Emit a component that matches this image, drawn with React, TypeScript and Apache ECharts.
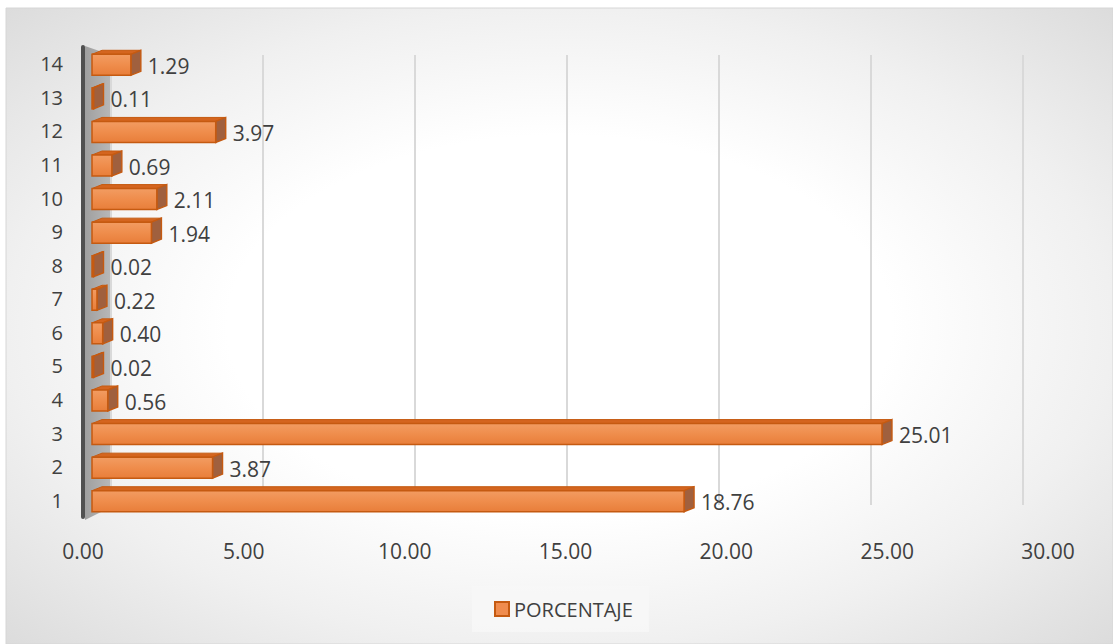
import React, { useEffect, useRef } from "react";
import * as echarts from "echarts";

const categories = ["1", "2", "3", "4", "5", "6", "7", "8", "9", "10", "11", "12", "13", "14"];
const values = [18.76, 3.87, 25.01, 0.56, 0.02, 0.4, 0.22, 0.02, 1.94, 2.11, 0.69, 3.97, 0.11, 1.29];
const seriesName = "PORCENTAJE";
const xMin = 0;
const xMax = 30;
const xInterval = 5;

const FONT = '"Open Sans", "Noto Sans", sans-serif';

export default function App() {
  const ref = useRef<HTMLDivElement>(null);

  useEffect(() => {
    if (!ref.current) return;
    const chart = echarts.init(ref.current, undefined, { renderer: "svg" });

    const renderItem = (params: any, api: any) => {
      const cat = api.value(1);
      const v = api.value(0);
      const p0 = api.coord([0, cat]);
      const p1 = api.coord([v, cat]);
      const h = 21;
      const dx = 10;
      const dy = 4;
      const top = p0[1] - h / 2 + 1;
      const bottom = top + h;
      const x0 = p0[0] + 2;
      const x1 = Math.max(p1[0], x0 + 1.5);
      return {
        type: "group",
        children: [
          {
            type: "polygon",
            shape: { points: [[x0, top], [x0 + dx, top - dy], [x1 + dx, top - dy], [x1, top]] },
            style: { fill: "#D4651F", stroke: "#C55A11", lineWidth: 1 },
          },
          {
            type: "polygon",
            shape: { points: [[x1, top], [x1 + dx, top - dy], [x1 + dx, bottom - dy], [x1, bottom]] },
            style: { fill: "#A0603E", stroke: "#C55A11", lineWidth: 1.4 },
          },
          {
            type: "rect",
            shape: { x: x0, y: top, width: x1 - x0, height: h },
            style: {
              fill: new echarts.graphic.LinearGradient(0, 0, 0, 1, [
                { offset: 0, color: "#F29C62" },
                { offset: 0.5, color: "#EF8D4C" },
                { offset: 1, color: "#E87E3A" },
              ]),
              stroke: "#C55A11",
              lineWidth: 1.5,
            },
          },
          {
            type: "text",
            style: {
              text: v.toFixed(2),
              x: x1 + dx + 7,
              y: p0[1] + 2,
              verticalAlign: "middle",
              align: "left",
              fill: "#404040",
              fontSize: 21,
              fontFamily: FONT,
            },
          },
        ],
      };
    };

    chart.setOption({
      animation: false,
      backgroundColor: "#ffffff",
      textStyle: { fontFamily: FONT },
      graphic: [
        {
          type: "rect",
          z: -20,
          shape: { x: 6, y: 8, width: 1107, height: 636 },
          style: {
            fill: {
              type: "radial",
              x: 0.5,
              y: 0.5,
              r: 1,
              colorStops: [
                { offset: 0, color: "#ffffff" },
                { offset: 0.3, color: "#ffffff" },
                { offset: 0.5, color: "#f0f0f0" },
                { offset: 0.85, color: "#cecece" },
                { offset: 1, color: "#bababa" },
              ],
            },
            stroke: "#d6d6d6",
            lineWidth: 1,
          },
        },
        {
          type: "polygon",
          z: -5,
          shape: { points: [[85, 46], [111, 55], [111, 507], [85, 520]] },
          style: {
            fill: new echarts.graphic.LinearGradient(0, 0, 1, 0, [
              { offset: 0, color: "#9f9f9f" },
              { offset: 1, color: "#b8b8b8" },
            ]),
          },
        },
      ],
      legend: {
        data: [
          {
            name: seriesName,
            icon: "rect",
            itemStyle: { color: "#F08C4E", borderColor: "#C55A11", borderWidth: 2 },
          },
        ],
        left: 472,
        top: 586,
        padding: [13, 16, 13, 22],
        itemWidth: 14,
        itemHeight: 14,
        itemGap: 6,
        backgroundColor: "rgba(247,247,247,0.8)",
        textStyle: { fontSize: 20, color: "#404040", fontFamily: FONT },
      },
      grid: [
        { left: 90, right: 73, top: 47, bottom: 127, containLabel: false },
        { left: 111, right: 90, top: 55, bottom: 139, containLabel: false },
        { left: 83, right: 65, top: 47, bottom: 127, containLabel: false },
      ],
      xAxis: [
        {
          type: "value",
          gridIndex: 0,
          min: xMin,
          max: xMax,
          interval: xInterval,
          axisLine: { show: false },
          axisTick: { show: false },
          splitLine: { show: false },
          axisLabel: { show: false },
        },
        {
          type: "value",
          gridIndex: 1,
          min: xMin,
          max: xMax,
          interval: xInterval,
          axisLine: { show: false },
          axisTick: { show: false },
          axisLabel: { show: false },
          splitLine: { show: true, lineStyle: { color: "#d9d9d9", width: 2 } },
        },
        {
          type: "value",
          gridIndex: 2,
          min: xMin,
          max: xMax,
          interval: xInterval,
          axisLine: { show: false },
          axisTick: { show: false },
          splitLine: { show: false },
          axisLabel: {
            formatter: (v: number) => v.toFixed(2),
            fontSize: 21,
            color: "#404040",
            margin: 23,
            fontFamily: FONT,
          },
        },
      ],
      yAxis: [
        { type: "category", gridIndex: 0, data: categories, show: false },
        { type: "category", gridIndex: 1, data: categories, show: false },
        {
          type: "category",
          gridIndex: 2,
          data: categories,
          axisLine: { show: true, lineStyle: { color: "#505050", width: 4 } },
          axisTick: { show: false },
          splitLine: { show: false },
          axisLabel: { fontSize: 20, color: "#404040", margin: 20, fontFamily: FONT },
        },
      ],
      series: [
        {
          name: seriesName,
          type: "custom",
          xAxisIndex: 0,
          yAxisIndex: 0,
          renderItem,
          encode: { x: 0, y: 1 },
          itemStyle: { color: "#F08C4E", borderColor: "#C55A11", borderWidth: 2 },
          data: values.map((v, i) => [v, i]),
          z: 5,
        },
      ],
    });

    return () => chart.dispose();
  }, []);

  return (
    <div
      ref={ref}
      style={{ position: "fixed", left: 0, top: 0, width: 1113, height: 644 }}
    />
  );
}
